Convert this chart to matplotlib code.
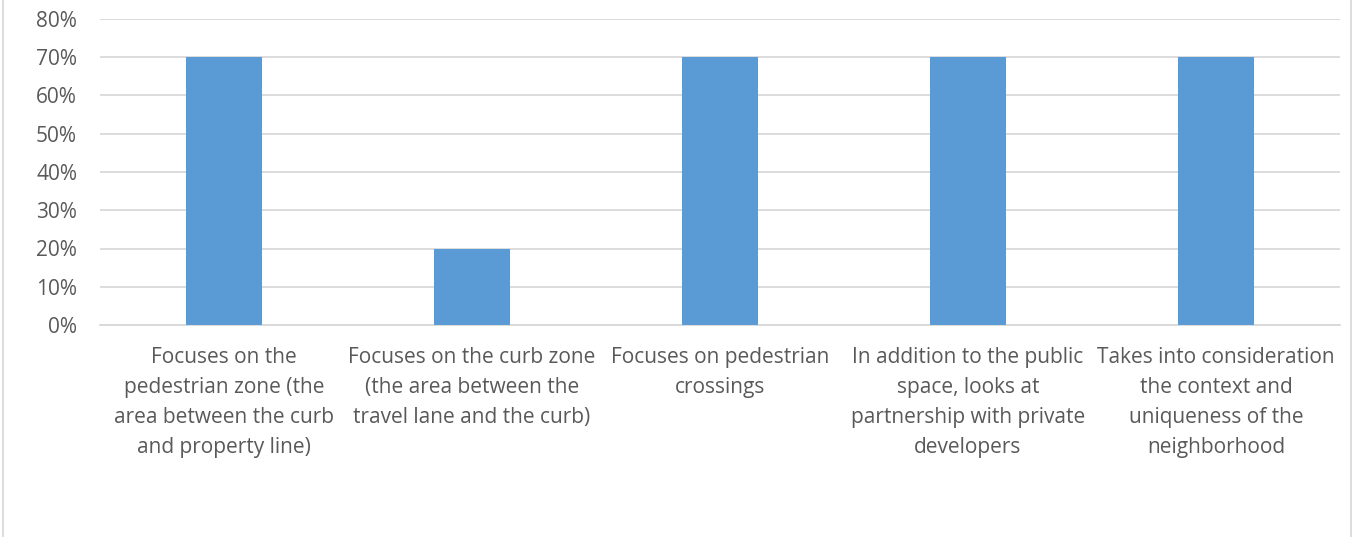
import matplotlib
matplotlib.use("Agg")
import matplotlib.pyplot as plt
from matplotlib.ticker import PercentFormatter, MultipleLocator
from matplotlib.lines import Line2D

categories = [
    "Focuses on the\npedestrian zone (the\narea between the curb\nand property line)",
    "Focuses on the curb zone\n(the area between the\ntravel lane and the curb)",
    "Focuses on pedestrian\ncrossings",
    "In addition to the public\nspace, looks at\npartnership with private\ndevelopers",
    "Takes into consideration\nthe context and\nuniqueness of the\nneighborhood",
]
values = [0.70, 0.20, 0.70, 0.70, 0.70]

text_color = "#595959"
grid_color = "#D9D9D9"
bar_color = "#5B9BD5"

plt.rcParams["font.family"] = ["Open Sans", "DejaVu Sans"]

W, H = 1353, 537
fig = plt.figure(figsize=(W / 100, H / 100), dpi=100)
ax = fig.add_axes([100 / W, (H - 325) / H, (1340 - 100) / W, (325 - 19) / H])

x = range(len(categories))
ax.bar(x, values, width=0.31, color=bar_color, zorder=3)

ax.set_xlim(-0.5, len(categories) - 0.5)
ax.set_ylim(0, 0.8)
ax.yaxis.set_major_locator(MultipleLocator(0.1))
ax.yaxis.set_major_formatter(PercentFormatter(1.0, decimals=0))
ax.grid(axis="y", color=grid_color, linewidth=1.3, zorder=0)

for s in ["top", "right", "left"]:
    ax.spines[s].set_visible(False)
ax.spines["bottom"].set_color(grid_color)
ax.spines["bottom"].set_linewidth(1.3)

ax.set_xticks(list(x))
ax.set_xticklabels(categories, fontsize=15, color=text_color, linespacing=1.55)
ax.tick_params(axis="x", length=0, pad=16)
ax.tick_params(axis="y", length=0, pad=16.5, labelsize=15, labelcolor=text_color)

# chart area frame edges
fig.add_artist(Line2D([3 / W, 3 / W], [0, 1], color=grid_color, linewidth=1.3, transform=fig.transFigure))
fig.add_artist(Line2D([1351 / W, 1351 / W], [0, 1], color=grid_color, linewidth=1.3, transform=fig.transFigure))

fig.savefig("out.png", dpi=100)
